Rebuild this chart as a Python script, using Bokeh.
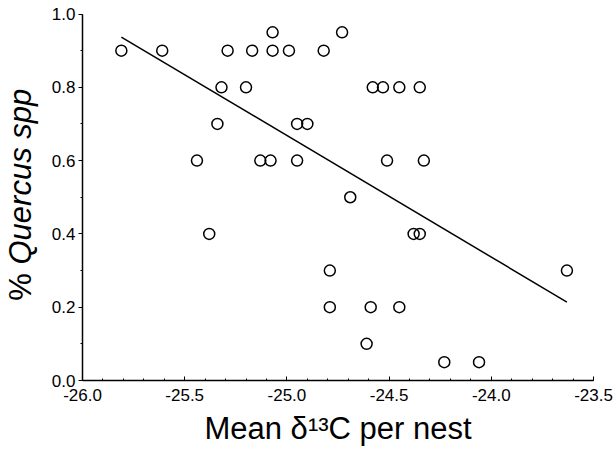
import math
from bokeh.plotting import figure
from bokeh.models import FixedTicker, NumeralTickFormatter, Label, Range1d, ColumnDataSource
from bokeh.embed import file_html
from bokeh.resources import INLINE

# Data
d13c = [-25.81, -25.61, -25.29, -25.17, -25.07, -25.07, -24.99, -24.82, -24.73,
        -25.32, -25.20, -24.58, -24.53, -24.45, -24.35,
        -25.34, -24.95, -24.90,
        -25.44, -25.13, -25.08, -24.95, -24.51, -24.33,
        -24.69,
        -25.38, -24.38, -24.35,
        -24.79, -23.63,
        -24.79, -24.59, -24.45,
        -24.61,
        -24.23, -24.06]
quercus = [0.90, 0.90, 0.90, 0.90, 0.95, 0.90, 0.90, 0.90, 0.95,
           0.80, 0.80, 0.80, 0.80, 0.80, 0.80,
           0.70, 0.70, 0.70,
           0.60, 0.60, 0.60, 0.60, 0.60, 0.60,
           0.50,
           0.40, 0.40, 0.40,
           0.30, 0.30,
           0.20, 0.20, 0.20,
           0.10,
           0.05, 0.05]

# regression line values at the data's min and max x
fit_y = [0.937, 0.214]
fit_x = [min(d13c), max(d13c)]

x_ticks = [-26.0, -25.5, -25.0, -24.5, -24.0, -23.5]
x_minor = [-26.0 + 0.1 * i for i in range(26)]
y_ticks = [0.0, 0.2, 0.4, 0.6, 0.8, 1.0]
y_minor = [0.1 * i for i in range(11)]

FONT = "Liberation Sans"

# ---- layout (pixels). The frame fills the whole canvas so that the titles
# (drawn as labels) are not clipped; the axes are pinned at x=-26 and y=0.
W, H = 616, 447
AX_LEFT, AX_RIGHT, AX_TOP, AX_BOTTOM = 82, 593, 13.5, 380
X_MIN, X_MAX = -26.0, -23.5
Y_MIN, Y_MAX = 0.0, 1.0
ppx = (AX_RIGHT - AX_LEFT) / (X_MAX - X_MIN)
ppy = (AX_BOTTOM - AX_TOP) / (Y_MAX - Y_MIN)
x_range = Range1d(X_MIN - AX_LEFT / ppx, X_MAX + (W - AX_RIGHT) / ppx)
y_range = Range1d(Y_MIN - (H - AX_BOTTOM) / ppy, Y_MAX + AX_TOP / ppy)

p = figure(width=W, height=H, output_backend="svg", toolbar_location=None,
           title=None, x_range=x_range, y_range=y_range,
           min_border_left=0, min_border_right=0, min_border_top=0,
           min_border_bottom=0)
p.outline_line_color = None
p.grid.visible = False

src = ColumnDataSource(dict(x=d13c, y=quercus))
p.line(fit_x, fit_y, line_color="black", line_width=1.5)
p.scatter("x", "y", source=src, size=11, marker="circle", fill_color=None,
          line_color="black", line_width=1.5)

xa = p.xaxis[0]
xa.fixed_location = Y_MIN
xa.bounds = (X_MIN, X_MAX)
xa.ticker = FixedTicker(ticks=x_ticks, minor_ticks=x_minor)
xa.formatter = NumeralTickFormatter(format="0.0")
xa.major_tick_in = 4
xa.major_tick_out = 0
xa.minor_tick_in = 2
xa.minor_tick_out = 0
xa.axis_line_width = 1.5
xa.major_label_text_font = FONT
xa.major_label_text_font_size = "17px"
xa.major_label_text_color = "black"
xa.major_label_standoff = 8

ya = p.yaxis[0]
ya.fixed_location = X_MIN
ya.bounds = (Y_MIN, Y_MAX)
ya.ticker = FixedTicker(ticks=y_ticks, minor_ticks=y_minor)
ya.formatter = NumeralTickFormatter(format="0.0")
ya.major_tick_in = 0
ya.major_tick_out = 4
ya.minor_tick_in = 0
ya.minor_tick_out = 2
ya.axis_line_width = 1.5
ya.major_label_text_font = FONT
ya.major_label_text_font_size = "17px"
ya.major_label_text_color = "black"
ya.major_label_standoff = 3

# x title
p.add_layout(Label(x=(X_MIN + X_MAX) / 2, y=19, x_units="data", y_units="screen",
                   text="Mean δ\u00b9\u00b3C per nest", text_align="center",
                   text_baseline="alphabetic", text_font=FONT, text_font_size="31px",
                   text_color="black"))

# y title: "% " upright + "Quercus spp" italic
p.add_layout(Label(x=20, y=H - 264, x_units="screen", y_units="screen", text="% ",
                   angle=math.pi / 2, text_align="right", text_baseline="alphabetic",
                   text_font=FONT, text_font_size="31px", text_color="black"))
p.add_layout(Label(x=20, y=H - 264, x_units="screen", y_units="screen", text="Quercus spp",
                   angle=math.pi / 2, text_align="left", text_baseline="alphabetic",
                   text_font=FONT, text_font_size="31px", text_font_style="italic",
                   text_color="black"))

open("out.html", "w").write(file_html(p, INLINE))
